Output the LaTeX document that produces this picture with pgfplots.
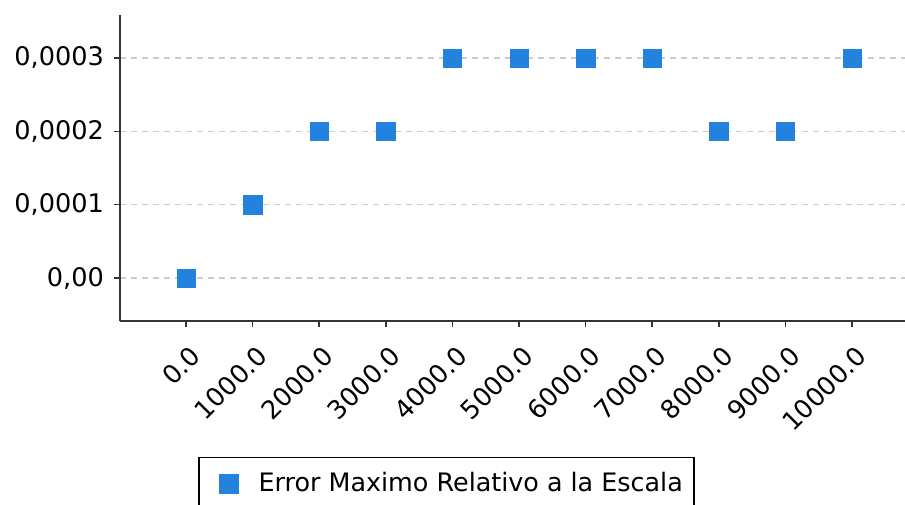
\documentclass[border=0pt]{standalone}
\usepackage{fontspec}
\setmainfont{DejaVu Sans}
\usepackage{pgfplots}
\pgfplotsset{compat=1.18}
\definecolor{mblue}{HTML}{2282DE}
\definecolor{axgray}{HTML}{333333}
\definecolor{gridgray}{HTML}{CCCCCC}
\begin{document}
\begin{tikzpicture}
\begin{axis}[
  at={(0,0)}, anchor=south west,
  scale only axis,
  width=392.5pt, height=153pt,
  xmin=-991, xmax=10796,
  ymin=-0.0000586, ymax=0.0003586,
  scaled x ticks=false, scaled y ticks=false,
  axis x line*=bottom, axis y line*=left,
  axis line style={draw=axgray, line width=0.8pt, -},
  tick align=outside,
  major tick length=3pt,
  tick style={draw=axgray, line width=0.8pt},
  xtick={0,1000,2000,3000,4000,5000,6000,7000,8000,9000,10000},
  xticklabels={0.0,1000.0,2000.0,3000.0,4000.0,5000.0,6000.0,7000.0,8000.0,9000.0,10000.0},
  ytick={0,0.0001,0.0002,0.0003},
  yticklabels={{0,00},{0,0001},{0,0002},{0,0003}},
  ticklabel style={font=\fontsize{12.8}{15}\selectfont},
  xticklabel style={anchor=east, inner sep=0pt, xshift=4.95pt, yshift=-12.1pt, rotate=45},
  yticklabel style={xshift=-1.5pt},
  /pgf/number format/assume math mode=true,
  ymajorgrids,
  major grid style={draw=gridgray, line width=0.6pt, dash pattern=on 3pt off 2.5pt},
  legend style={at={(0.0994,-0.444)}, anchor=north west, draw=black, line width=0.75pt,
    font=\fontsize{12.7}{15}\selectfont, inner xsep=5.5pt, inner ysep=7.5pt,
    nodes={inner sep=0pt}},
  legend image code/.code={\draw[#1] plot coordinates {(0pt,0pt)}; \path (-9.1pt,0pt) (14.6pt,0pt);},
  legend cell align=left,
]
\addplot[only marks, mark=square*, mark size=4.6pt, mark options={fill=mblue, draw=mblue, line width=0.2pt}]
  coordinates {
  (0,0) (1000,0.0001) (2000,0.0002) (3000,0.0002) (4000,0.0003) (5000,0.0003)
  (6000,0.0003) (7000,0.0003) (8000,0.0002) (9000,0.0002) (10000,0.0003)
  };
\addlegendentry{Error Maximo Relativo a la Escala}
\end{axis}
\pgfresetboundingbox
\useasboundingbox (-60pt,-91.5pt) rectangle (392.5pt,160.5pt);
\end{tikzpicture}
\end{document}
